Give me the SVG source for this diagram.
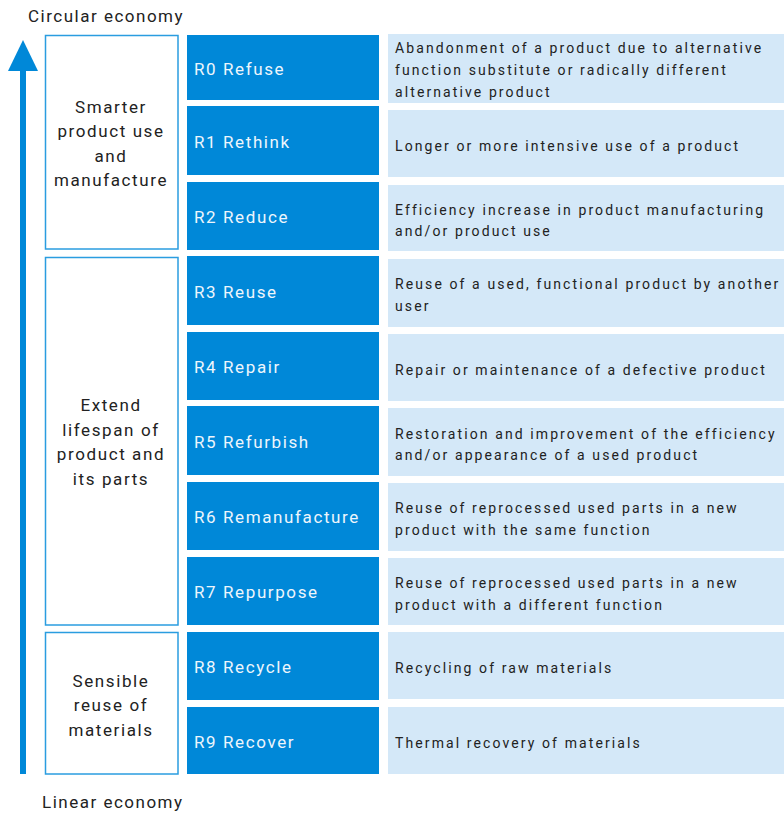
<svg xmlns="http://www.w3.org/2000/svg" width="784" height="813" viewBox="0 0 784 813">
<style>
text{font-family:Roboto,"DejaVu Sans",sans-serif;fill:#222}
.t{font-size:17px;letter-spacing:1.5px}
.g{font-size:17px;letter-spacing:1.6px;text-anchor:middle}
.r{font-size:17px;letter-spacing:1.6px;fill:#eef6fc}
.d{font-size:14px;letter-spacing:2.1px}
.blue{fill:#0088d8}
.light{fill:#d4e8f8}
.grp{fill:#fff;stroke:#2a9de0;stroke-width:1.5}
</style>
<rect width="784" height="813" fill="#fff"/>
<g id="axis">
<rect x="20" y="70" width="6" height="704" class="blue"/>
<polygon points="23,40 38,71 8,71" class="blue"/>
<text class="t" x="28" y="22">Circular economy</text>
<text class="t" x="42" y="808">Linear economy</text>
</g>
<g id="group1">
<rect x="45.5" y="35.5" width="132.5" height="213.5" class="grp"/>
<text class="g" x="111" y="113">Smarter</text>
<text class="g" x="111" y="137">product use</text>
<text class="g" x="111" y="162">and</text>
<text class="g" x="111" y="186">manufacture</text>
</g>
<g id="group2">
<rect x="45.5" y="257.5" width="132.5" height="367.5" class="grp"/>
<text class="g" x="111" y="411">Extend</text>
<text class="g" x="111" y="436">lifespan of</text>
<text class="g" x="111" y="460">product and</text>
<text class="g" x="111" y="485">its parts</text>
</g>
<g id="group3">
<rect x="45.5" y="632.5" width="132.5" height="141.5" class="grp"/>
<text class="g" x="111" y="687">Sensible</text>
<text class="g" x="111" y="711">reuse of</text>
<text class="g" x="111" y="736">materials</text>
</g>
<g id="R0"><rect x="187" y="35" width="192" height="65" class="blue"/><text class="r" x="194" y="75">R0 Refuse</text>
<rect x="388" y="34" width="396" height="69" class="light"/><text class="d" x="395" y="53">Abandonment of a product due to alternative</text><text class="d" x="395" y="75">function substitute or radically different</text><text class="d" x="395" y="97">alternative product</text></g>
<g id="R1"><rect x="187" y="106" width="192" height="69" class="blue"/><text class="r" x="194" y="148">R1 Rethink</text>
<rect x="388" y="110" width="396" height="67" class="light"/><text class="d" x="395" y="151">Longer or more intensive use of a product</text></g>
<g id="R2"><rect x="187" y="182" width="192" height="68" class="blue"/><text class="r" x="194" y="223">R2 Reduce</text>
<rect x="388" y="185" width="396" height="66" class="light"/><text class="d" x="395" y="215">Efficiency increase in product manufacturing</text><text class="d" x="395" y="236">and/or product use</text></g>
<g id="R3"><rect x="187" y="256" width="192" height="69" class="blue"/><text class="r" x="194" y="298">R3 Reuse</text>
<rect x="388" y="259" width="396" height="68" class="light"/><text class="d" x="395" y="289">Reuse of a used, functional product by another</text><text class="d" x="395" y="311">user</text></g>
<g id="R4"><rect x="187" y="332" width="192" height="68" class="blue"/><text class="r" x="194" y="373">R4 Repair</text>
<rect x="388" y="334" width="396" height="67" class="light"/><text class="d" x="395" y="375">Repair or maintenance of a defective product</text></g>
<g id="R5"><rect x="187" y="406" width="192" height="69" class="blue"/><text class="r" x="194" y="448">R5 Refurbish</text>
<rect x="388" y="408" width="396" height="68" class="light"/><text class="d" x="395" y="439">Restoration and improvement of the efficiency</text><text class="d" x="395" y="460">and/or appearance of a used product</text></g>
<g id="R6"><rect x="187" y="482" width="192" height="68" class="blue"/><text class="r" x="194" y="523">R6 Remanufacture</text>
<rect x="388" y="483" width="396" height="68" class="light"/><text class="d" x="395" y="513">Reuse of reprocessed used parts in a new</text><text class="d" x="395" y="535">product with the same function</text></g>
<g id="R7"><rect x="187" y="557" width="192" height="68" class="blue"/><text class="r" x="194" y="598">R7 Repurpose</text>
<rect x="388" y="558" width="396" height="67" class="light"/><text class="d" x="395" y="588">Reuse of reprocessed used parts in a new</text><text class="d" x="395" y="610">product with a different function</text></g>
<g id="R8"><rect x="187" y="632" width="192" height="68" class="blue"/><text class="r" x="194" y="673">R8 Recycle</text>
<rect x="388" y="632" width="396" height="67" class="light"/><text class="d" x="395" y="673">Recycling of raw materials</text></g>
<g id="R9"><rect x="187" y="707" width="192" height="67" class="blue"/><text class="r" x="194" y="748">R9 Recover</text>
<rect x="388" y="707" width="396" height="67" class="light"/><text class="d" x="395" y="748">Thermal recovery of materials</text></g>
<g id="connectors"></g>
</svg>
